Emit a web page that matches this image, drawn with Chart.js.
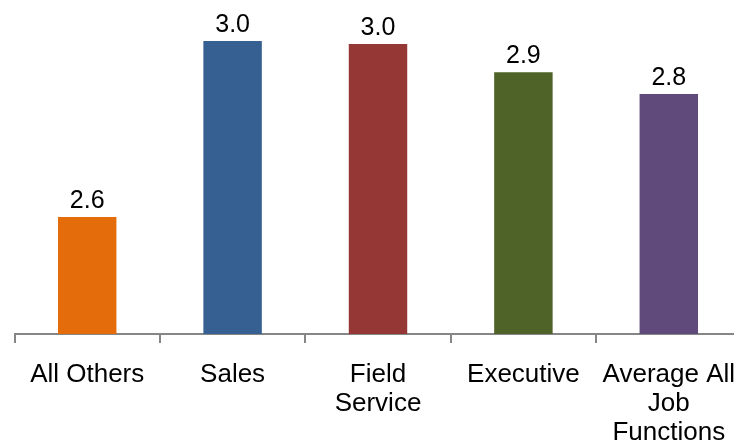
<!DOCTYPE html>
<html>
<head>
<meta charset="utf-8">
<script src="https://cdn.jsdelivr.net/npm/chart.js@4/dist/chart.umd.min.js"></script>
<style>
  html, body { margin: 0; padding: 0; background: #fff; overflow: hidden; }
  #wrap { width: 760px; height: 440px; }
</style>
</head>
<body>
<div id="wrap"><canvas id="c" width="760" height="440"></canvas></div>
<script>
const categories = ["All Others", "Sales", ["Field", "Service"], "Executive", ["Average All", "Job", "Functions"]];
const values = [2.567, 2.968, 2.961, 2.897, 2.847];
const barColors = ["#E46C0A", "#376092", "#953735", "#4F6228", "#604A7B"];
const yMin = 2.3;
const yMax = 3.0;

const valueLabels = {
  id: 'valueLabels',
  afterDatasetsDraw(chart) {
    const ctx = chart.ctx;
    const meta = chart.getDatasetMeta(0);
    ctx.save();
    ctx.fillStyle = '#000';
    ctx.font = '25px "Liberation Sans", Arial, sans-serif';
    ctx.textAlign = 'center';
    ctx.textBaseline = 'alphabetic';
    meta.data.forEach((bar, i) => {
      ctx.fillText(values[i].toFixed(1), bar.x, bar.y - 9);
    });
    ctx.restore();
  }
};

new Chart(document.getElementById('c'), {
  type: 'bar',
  data: {
    labels: categories,
    datasets: [{
      data: values,
      backgroundColor: barColors,
      borderWidth: 0,
      barPercentage: 0.402,
      categoryPercentage: 1.0
    }]
  },
  options: {
    responsive: false,
    animation: false,
    layout: { padding: { left: 14.5, right: 18.5, top: 27, bottom: 0 } },
    plugins: { legend: { display: false }, tooltip: { enabled: false } },
    scales: {
      y: { display: false, min: yMin, max: yMax },
      x: {
        afterFit(scale) { scale.height = 106; },
        border: { display: true, color: '#868686', width: 2 },
        grid: {
          offset: true,
          drawOnChartArea: false,
          drawTicks: true,
          tickLength: 9,
          color: '#868686',
          lineWidth: 2
        },
        ticks: {
          color: '#000',
          padding: 18,
          maxRotation: 0,
          autoSkip: false,
          font: { family: '"Liberation Sans", Arial, sans-serif', size: 26, lineHeight: 1.1 }
        }
      }
    }
  },
  plugins: [valueLabels]
});
</script>
</body>
</html>
